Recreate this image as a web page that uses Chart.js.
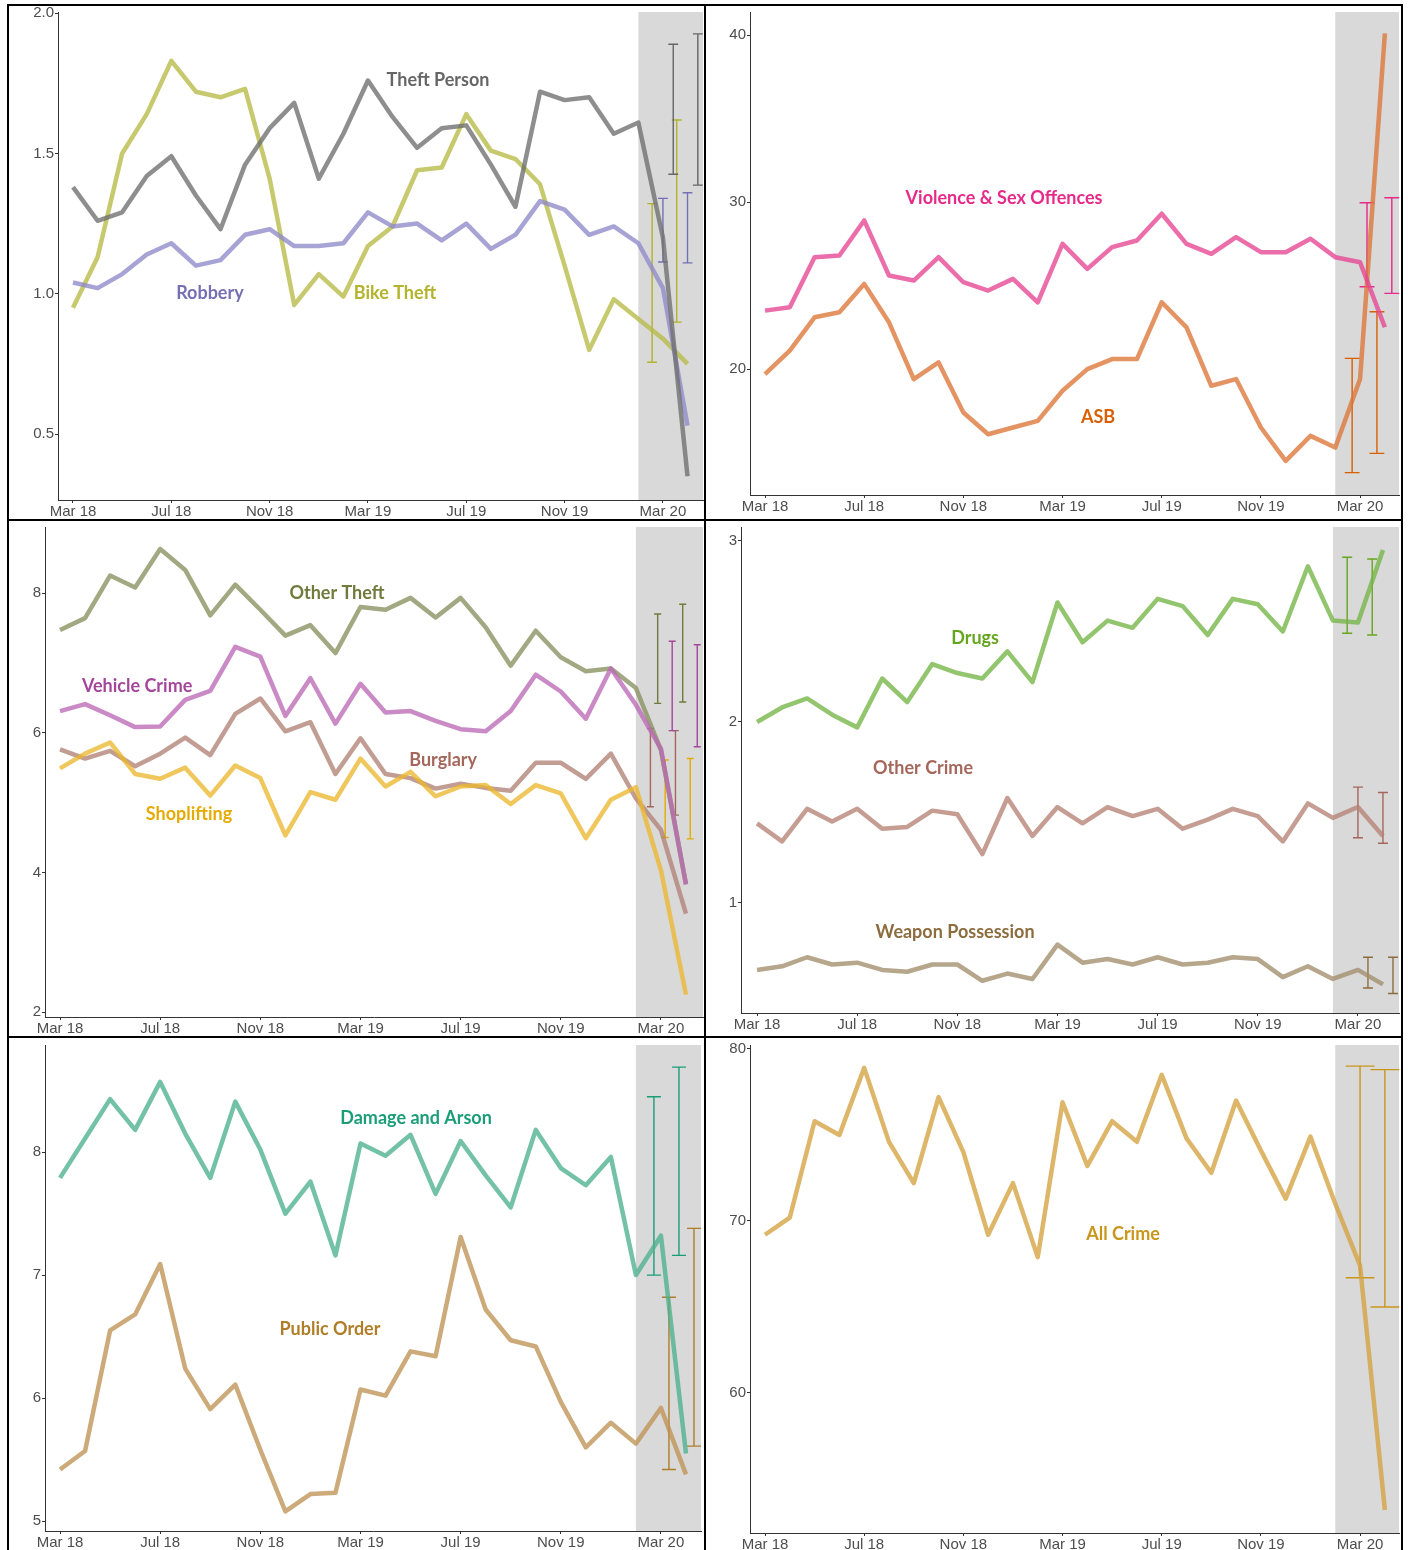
<!DOCTYPE html>
<html>
<head>
<meta charset="utf-8">
<script src="https://cdn.jsdelivr.net/npm/chart.js@4.4.1/dist/chart.umd.min.js"></script>
<style>
  body { margin: 0; background: #fff; width: 1408px; height: 1550px; position: relative; overflow: hidden; }
  canvas { position: absolute; }
  .rule { position: absolute; background: #000; }
</style>
</head>
<body>
<div class="rule" style="left:7px;top:4px;width:1396px;height:2px"></div>
<div class="rule" style="left:7px;top:4px;width:2px;height:1546px"></div>
<div class="rule" style="left:704px;top:4px;width:2px;height:1546px"></div>
<div class="rule" style="left:1401px;top:4px;width:2px;height:1546px"></div>
<div class="rule" style="left:7px;top:519px;width:1396px;height:2px"></div>
<div class="rule" style="left:7px;top:1036px;width:1396px;height:2px"></div>

<canvas id="p1" width="695" height="513" style="left:9px;top:6px"></canvas>
<canvas id="p2" width="695" height="513" style="left:706px;top:6px"></canvas>
<canvas id="p3" width="695" height="515" style="left:9px;top:521px"></canvas>
<canvas id="p4" width="695" height="515" style="left:706px;top:521px"></canvas>
<canvas id="p5" width="695" height="512" style="left:9px;top:1038px"></canvas>
<canvas id="p6" width="695" height="512" style="left:706px;top:1038px"></canvas>

<script>
// months Mar 18 .. Apr 20
const months = ['Mar 18','Apr 18','May 18','Jun 18','Jul 18','Aug 18','Sep 18','Oct 18','Nov 18','Dec 18',
  'Jan 19','Feb 19','Mar 19','Apr 19','May 19','Jun 19','Jul 19','Aug 19','Sep 19','Oct 19','Nov 19','Dec 19',
  'Jan 20','Feb 20','Mar 20','Apr 20'];
const xTickLabels = ['Mar 18','Jul 18','Nov 18','Mar 19','Jul 19','Nov 19','Mar 20'];
const forecastMonths = ['Mar 20','Apr 20'];
const shadeStart = 'Feb 20';

// panel 1
const bikeTheft = [0.95,1.13,1.50,1.64,1.83,1.72,1.70,1.73,1.41,0.96,1.07,0.99,1.17,1.24,1.44,1.45,1.64,1.51,1.48,1.39,1.10,0.80,0.98,0.91,0.84,0.75];
const robbery = [1.04,1.02,1.07,1.14,1.18,1.10,1.12,1.21,1.23,1.17,1.17,1.18,1.29,1.24,1.25,1.19,1.25,1.16,1.21,1.33,1.30,1.21,1.24,1.18,1.02,0.53];
const theftPerson = [1.38,1.26,1.29,1.42,1.49,1.35,1.23,1.46,1.59,1.68,1.41,1.57,1.76,1.63,1.52,1.59,1.60,1.46,1.31,1.72,1.69,1.70,1.57,1.61,1.20,0.35];
const bikeTheftLo = [0.756, 0.899], bikeTheftHi = [1.321, 1.619];
const robberyLo = [1.113, 1.11], robberyHi = [1.34, 1.36];
const theftPersonLo = [1.426, 1.387], theftPersonHi = [1.889, 1.926];
const yTicks1 = [0.5, 1.0, 1.5, 2.0];

// panel 2
const asb = [19.7,21.1,23.1,23.4,25.1,22.8,19.4,20.4,17.4,16.1,16.5,16.9,18.7,20.0,20.6,20.6,24.0,22.5,19.0,19.4,16.5,14.5,16.0,15.3,19.4,40.1];
const violence = [23.5,23.7,26.7,26.8,28.9,25.6,25.3,26.7,25.2,24.7,25.4,24.0,27.5,26.0,27.3,27.7,29.3,27.5,26.9,27.9,27.0,27.0,27.8,26.7,26.4,22.5];
const asbLo = [13.8, 14.95], asbHi = [20.64, 23.43];
const violenceLo = [24.93, 24.53], violenceHi = [29.96, 30.26];
const yTicks2 = [20, 30, 40];

// panel 3
const burglary = [5.76,5.63,5.74,5.52,5.70,5.93,5.68,6.27,6.49,6.02,6.15,5.41,5.92,5.41,5.35,5.20,5.27,5.21,5.17,5.57,5.57,5.34,5.70,5.06,4.61,3.41];
const otherTheft = [7.47,7.64,8.25,8.08,8.63,8.33,7.68,8.12,7.76,7.39,7.54,7.14,7.80,7.76,7.93,7.65,7.93,7.51,6.96,7.46,7.08,6.88,6.92,6.64,5.75,3.83];
const shoplifting = [5.49,5.70,5.86,5.41,5.34,5.50,5.10,5.53,5.35,4.53,5.15,5.04,5.63,5.23,5.44,5.09,5.23,5.25,4.98,5.25,5.13,4.49,5.04,5.22,4.03,2.25];
const vehicleCrime = [6.31,6.41,6.25,6.08,6.09,6.47,6.60,7.23,7.09,6.24,6.78,6.13,6.70,6.29,6.31,6.17,6.05,6.02,6.31,6.83,6.59,6.20,6.92,6.40,5.77,3.83];
const burglaryLo = [4.94, 4.82], burglaryHi = [6.06, 6.03];
const otherTheftLo = [6.42, 6.44], otherTheftHi = [7.70, 7.84];
const shopliftingLo = [4.50, 4.48], shopliftingHi = [5.61, 5.63];
const vehicleCrimeLo = [6.03, 5.80], vehicleCrimeHi = [7.31, 7.26];
const yTicks3 = [2, 4, 6, 8];

// panel 4
const drugs = [2.00,2.08,2.13,2.04,1.97,2.24,2.11,2.32,2.27,2.24,2.39,2.22,2.66,2.44,2.56,2.52,2.68,2.64,2.48,2.68,2.65,2.50,2.86,2.56,2.55,2.95];
const otherCrime = [1.44,1.34,1.52,1.45,1.52,1.41,1.42,1.51,1.49,1.27,1.58,1.37,1.53,1.44,1.53,1.48,1.52,1.41,1.46,1.52,1.48,1.34,1.55,1.47,1.53,1.37];
const weaponPossession = [0.63,0.65,0.70,0.66,0.67,0.63,0.62,0.66,0.66,0.57,0.61,0.58,0.77,0.67,0.69,0.66,0.70,0.66,0.67,0.70,0.69,0.59,0.65,0.58,0.63,0.55];
const drugsLo = [2.49, 2.48], drugsHi = [2.91, 2.90];
const otherCrimeLo = [1.36, 1.33], otherCrimeHi = [1.64, 1.61];
const weaponLo = [0.53, 0.50], weaponHi = [0.70, 0.70];
const yTicks4 = [1, 2, 3];

// panel 5
const damageArson = [7.79,8.11,8.43,8.18,8.57,8.15,7.79,8.41,8.02,7.50,7.76,7.16,8.07,7.97,8.14,7.66,8.09,7.81,7.55,8.18,7.87,7.73,7.96,7.00,7.32,5.55];
const publicOrder = [5.42,5.57,6.55,6.68,7.09,6.24,5.91,6.11,5.58,5.08,5.22,5.23,6.07,6.02,6.38,6.34,7.31,6.72,6.47,6.42,5.97,5.60,5.80,5.63,5.92,5.38];
const damageArsonLo = [7.00, 7.16], damageArsonHi = [8.45, 8.69];
const publicOrderLo = [5.42, 5.61], publicOrderHi = [6.82, 7.38];
const yTicks5 = [5, 6, 7, 8];

// panel 6
const allCrime = [69.2,70.2,75.8,75.0,78.9,74.6,72.2,77.2,74.0,69.2,72.2,67.9,76.9,73.2,75.8,74.6,78.5,74.8,72.8,77.0,74.1,71.3,74.9,71.0,67.4,53.2];
const allCrimeLo = [66.7, 65.0], allCrimeHi = [79.0, 78.8];
const yTicks6 = [60, 70, 80];

const tickFont = { family: 'Liberation Sans', size: 15 };
const labelFont = 'bold 18px Lato';

function makePanel(id, cfg) {
  // series listed bottom-most first; chart.js draws index 0 on top, so reverse
  const ds = cfg.series.slice().reverse().map(s => ({
    data: s.values.map((v, i) => ({ x: i, y: v })),
    borderColor: s.line,
    borderWidth: 4.5,
    borderJoinStyle: 'round',
    pointRadius: 0,
    tension: 0
  }));

  const extras = {
    id: 'extras',
    beforeDatasetsDraw(chart) {
      const { ctx, chartArea: a, scales: { x, y } } = chart;
      ctx.save();
      const x0 = x.getPixelForValue(months.indexOf(shadeStart));
      ctx.fillStyle = '#d9d9d9';
      ctx.fillRect(x0, a.top, a.right - x0, a.bottom - a.top);

      const month = x.getPixelForValue(1) - x.getPixelForValue(0);
      const cap = cfg.cap * month;
      ctx.lineWidth = 1.4;
      cfg.series.forEach((s, k) => {
        ctx.strokeStyle = s.bar;
        forecastMonths.forEach((m, j) => {
          const cx = x.getPixelForValue(months.indexOf(m) + cfg.dodge[k]);
          const yl = y.getPixelForValue(s.lo[j]);
          const yh = y.getPixelForValue(s.hi[j]);
          ctx.beginPath();
          ctx.moveTo(cx, yl); ctx.lineTo(cx, yh);
          ctx.moveTo(cx - cap, yl); ctx.lineTo(cx + cap, yl);
          ctx.moveTo(cx - cap, yh); ctx.lineTo(cx + cap, yh);
          ctx.stroke();
        });
      });
      ctx.restore();
    },
    afterDatasetsDraw(chart) {
      const { ctx, scales: { x, y } } = chart;
      ctx.save();
      ctx.font = labelFont;
      ctx.textAlign = 'center';
      ctx.textBaseline = 'middle';
      cfg.series.forEach(s => {
        ctx.fillStyle = s.bar;
        ctx.fillText(s.name, x.getPixelForValue(s.at[0]), y.getPixelForValue(s.at[1]));
      });
      ctx.restore();
    }
  };

  const g = cfg.box;
  new Chart(document.getElementById(id), {
    type: 'line',
    data: { datasets: ds },
    plugins: [extras],
    options: {
      responsive: false,
      animation: false,
      layout: { padding: { top: g.top, right: g.right, left: 0, bottom: 0 } },
      plugins: { legend: { display: false }, tooltip: { enabled: false } },
      scales: {
        x: {
          type: 'linear',
          min: cfg.xMin, max: cfg.xMax,
          afterFit: s => { s.height = g.bottom; s.paddingLeft = 0; s.paddingRight = 0; },
          afterBuildTicks: s => { s.ticks = xTickLabels.map(l => ({ value: months.indexOf(l) })); },
          ticks: { callback: v => months[v], color: '#4d4d4d', font: tickFont, padding: 0, maxRotation: 0, autoSkip: false },
          grid: { display: true, drawOnChartArea: false, drawTicks: true, tickLength: 3, color: '#333' },
          border: { display: true, color: '#333', width: 1 }
        },
        y: {
          min: cfg.yMin, max: cfg.yMax,
          afterFit: s => { s.width = g.left; s.paddingTop = 0; s.paddingBottom = 0; },
          afterBuildTicks: s => { s.ticks = cfg.yTicks.map(v => ({ value: v })); },
          ticks: { callback: cfg.fmt, color: '#4d4d4d', font: tickFont, padding: 1 },
          grid: { display: true, drawOnChartArea: false, drawTicks: true, tickLength: 3, color: '#333' },
          border: { display: true, color: '#333', width: 1 }
        }
      }
    }
  });
}

const whole = v => String(v);

makePanel('p1', {
  box: { left: 49, right: 1, top: 6, bottom: 19 },
  xMin: -0.61, xMax: 25.63, yMin: 0.265, yMax: 2.004, yTicks: yTicks1, fmt: v => v.toFixed(1),
  dodge: [-0.44, 0, 0.42], cap: 0.2,
  series: [
    { name: 'Bike Theft', values: bikeTheft, lo: bikeTheftLo, hi: bikeTheftHi, line: 'rgba(183,186,69,0.78)', bar: '#b3b32c', at: [13.1, 1.003] },
    { name: 'Robbery', values: robbery, lo: robberyLo, hi: robberyHi, line: 'rgba(142,137,201,0.78)', bar: '#7570b3', at: [5.57, 1.003] },
    { name: 'Theft Person', values: theftPerson, lo: theftPersonLo, hi: theftPersonHi, line: 'rgba(110,110,110,0.78)', bar: '#666666', at: [14.85, 1.761] }
  ]
});

makePanel('p2', {
  box: { left: 44, right: 2, top: 6, bottom: 24 },
  xMin: -0.605, xMax: 25.57, yMin: 12.46, yMax: 41.38, yTicks: yTicks2, fmt: whole,
  dodge: [-0.32, 0.28], cap: 0.3,
  series: [
    { name: 'ASB', values: asb, lo: asbLo, hi: asbHi, line: 'rgba(221,117,55,0.78)', bar: '#d95f02', at: [13.43, 17.13] },
    { name: 'Violence & Sex Offences', values: violence, lo: violenceLo, hi: violenceHi, line: 'rgba(230,69,146,0.78)', bar: '#e7298a', at: [9.64, 30.24] }
  ]
});

makePanel('p3', {
  box: { left: 36, right: 1, top: 6, bottom: 19 },
  xMin: -0.6, xMax: 25.68, yMin: 1.93, yMax: 8.945, yTicks: yTicks3, fmt: whole,
  dodge: [-0.42, -0.13, 0.17, 0.45], cap: 0.14,
  series: [
    { name: 'Burglary', values: burglary, lo: burglaryLo, hi: burglaryHi, line: 'rgba(176,129,116,0.78)', bar: '#a5675b', at: [15.3, 5.61] },
    { name: 'Other Theft', values: otherTheft, lo: otherTheftLo, hi: otherTheftHi, line: 'rgba(136,145,95,0.78)', bar: '#6f7a3c', at: [11.06, 8.0] },
    { name: 'Shoplifting', values: shoplifting, lo: shopliftingLo, hi: shopliftingHi, line: 'rgba(236,183,46,0.78)', bar: '#e6ab02', at: [5.15, 4.835] },
    { name: 'Vehicle Crime', values: vehicleCrime, lo: vehicleCrimeLo, hi: vehicleCrimeHi, line: 'rgba(186,105,181,0.78)', bar: '#a4479b', at: [3.08, 6.67] }
  ]
});

makePanel('p4', {
  box: { left: 35, right: 2, top: 6, bottom: 23 },
  xMin: -0.64, xMax: 25.64, yMin: 0.392, yMax: 3.077, yTicks: yTicks4, fmt: whole,
  dodge: [-0.43, 0, 0.4], cap: 0.2,
  series: [
    { name: 'Drugs', values: drugs, lo: drugsLo, hi: drugsHi, line: 'rgba(116,181,71,0.78)', bar: '#66a61e', at: [8.71, 2.464] },
    { name: 'Other Crime', values: otherCrime, lo: otherCrimeLo, hi: otherCrimeHi, line: 'rgba(181,129,116,0.78)', bar: '#a5675b', at: [6.63, 1.746] },
    { name: 'Weapon Possession', values: weaponPossession, lo: weaponLo, hi: weaponHi, line: 'rgba(161,141,106,0.78)', bar: '#8c6d3f', at: [7.91, 0.84] }
  ]
});

makePanel('p5', {
  box: { left: 36, right: 3, top: 7, bottom: 19 },
  xMin: -0.6, xMax: 25.6, yMin: 4.92, yMax: 8.87, yTicks: yTicks5, fmt: whole,
  dodge: [-0.28, 0.32], cap: 0.28,
  series: [
    { name: 'Damage and Arson', values: damageArson, lo: damageArsonLo, hi: damageArsonHi, line: 'rgba(76,176,141,0.78)', bar: '#1b9e77', at: [14.22, 8.276] },
    { name: 'Public Order', values: publicOrder, lo: publicOrderLo, hi: publicOrderHi, line: 'rgba(190,146,84,0.78)', bar: '#b07d28', at: [10.78, 6.561] }
  ]
});

makePanel('p6', {
  box: { left: 44, right: 2, top: 7, bottom: 17 },
  xMin: -0.605, xMax: 25.57, yMin: 51.86, yMax: 80.23, yTicks: yTicks6, fmt: whole,
  dodge: [0], cap: 0.58,
  series: [
    { name: 'All Crime', values: allCrime, lo: allCrimeLo, hi: allCrimeHi, line: 'rgba(211,161,64,0.78)', bar: '#c9961a', at: [14.44, 69.24] }
  ]
});
</script>
</body>
</html>
